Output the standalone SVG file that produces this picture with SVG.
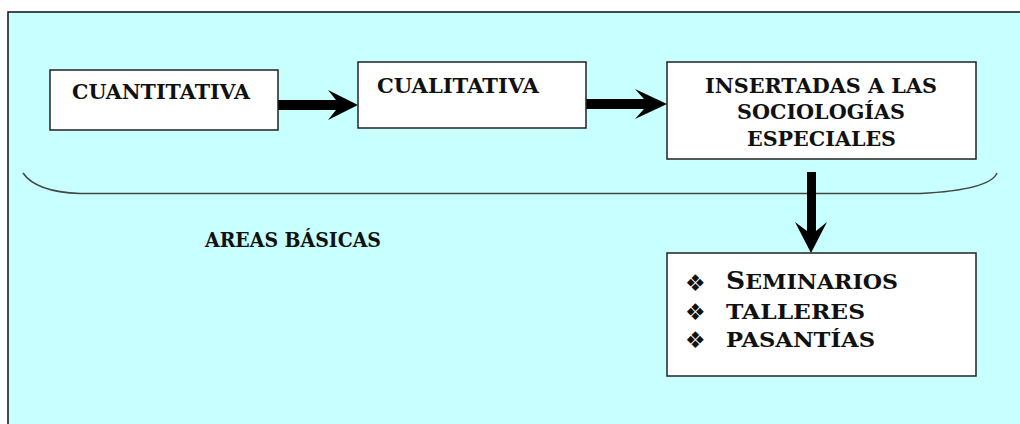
<svg xmlns="http://www.w3.org/2000/svg" width="1020" height="424" viewBox="0 0 1020 424">
  <style>
    .frame { fill: #C8FFFF; stroke: #111; stroke-width: 1.5; }
    .box { fill: #FFFFFF; stroke: #222; stroke-width: 1.5; }
    .lbl { font-family: "DejaVu Serif", "Liberation Serif", serif; font-weight: bold; font-size: 20px; fill: #111; }
    .bul { font-family: "DejaVu Sans", "Noto Sans", sans-serif; font-size: 23px; fill: #111; }
    .arrow { fill: #000; stroke: none; }
    .brace { fill: none; stroke: #444; stroke-width: 1.5; }
  </style>
  <rect x="0" y="0" width="1020" height="424" fill="#FFFFFF"/>
  <rect class="frame" x="8" y="12" width="1040" height="440"/>

  <path class="brace" d="M 23 173 Q 36 192 80 193.5 L 920 193.5 Q 990 190 997 173"/>

  <g id="connectors">
    <path class="arrow" d="M 278 100 L 336 100 L 328 90 L 358 105 L 328 120 L 336 110 L 278 110 Z"/>
    <path class="arrow" d="M 586 99 L 644 99 L 635 89 L 667 104 L 635 119 L 644 109 L 586 109 Z"/>
    <path class="arrow" d="M 807 172 L 807 231 L 795 222 L 811 253 L 827 222 L 816 231 L 816 172 Z"/>
  </g>

  <g id="node-cuantitativa">
    <rect class="box" x="50" y="70" width="228" height="60"/>
    <text class="lbl" x="72" y="99" textLength="178" lengthAdjust="spacingAndGlyphs">CUANTITATIVA</text>
  </g>

  <g id="node-cualitativa">
    <rect class="box" x="358" y="62" width="228" height="66"/>
    <text class="lbl" x="377" y="93" textLength="162" lengthAdjust="spacingAndGlyphs">CUALITATIVA</text>
  </g>

  <g id="node-insertadas">
    <rect class="box" x="667" y="62" width="309" height="97"/>
    <text class="lbl" x="705" y="93" textLength="232" lengthAdjust="spacingAndGlyphs">INSERTADAS A LAS</text>
    <text class="lbl" x="737" y="119" textLength="168" lengthAdjust="spacingAndGlyphs">SOCIOLOGÍAS</text>
    <text class="lbl" x="747" y="146" textLength="149" lengthAdjust="spacingAndGlyphs">ESPECIALES</text>
  </g>

  <g id="node-areas">
    <text class="lbl" x="205" y="247" textLength="176" lengthAdjust="spacingAndGlyphs">AREAS BÁSICAS</text>
  </g>

  <g id="node-actividades">
    <rect class="box" x="667" y="253" width="309" height="123"/>
    <text class="bul" x="685" y="291">❖</text>
    <text class="bul" x="685" y="320">❖</text>
    <text class="bul" x="685" y="348">❖</text>
    <text class="lbl" x="726" y="289" textLength="172" lengthAdjust="spacingAndGlyphs"><tspan font-size="24px">S</tspan>EMINARIOS</text>
    <text class="lbl" x="726" y="319" textLength="139" lengthAdjust="spacingAndGlyphs">TALLERES</text>
    <text class="lbl" x="726" y="347" textLength="149" lengthAdjust="spacingAndGlyphs">PASANTÍAS</text>
  </g>
</svg>
